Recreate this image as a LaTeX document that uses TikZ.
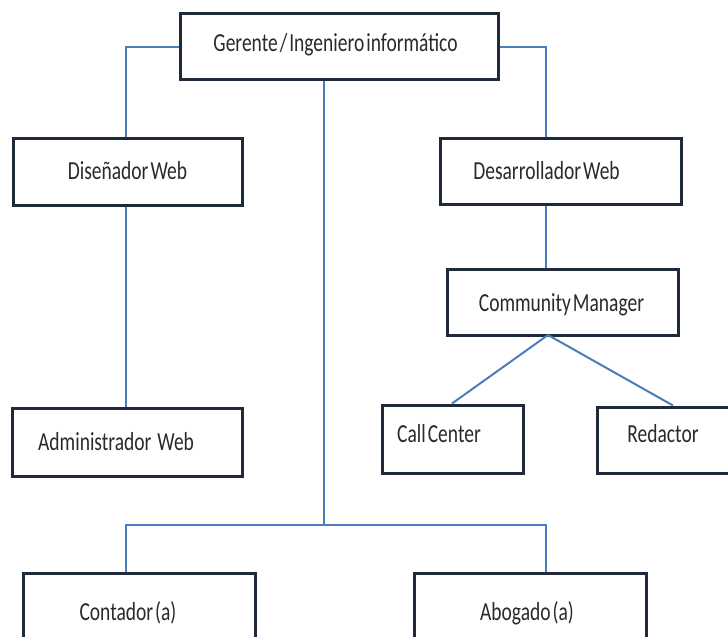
\documentclass[tikz,border=0pt]{standalone}
\usepackage{fontspec}
\setmainfont[FakeStretch=0.75,WordSpace=0.45]{Carlito}
\definecolor{boxline}{HTML}{1F2A3A}
\definecolor{conn}{HTML}{4A7EBB}
\definecolor{txt}{HTML}{2A2A2A}
\begin{document}
\begin{tikzpicture}[x=1pt,y=-1pt,
  orgbox/.style={draw=boxline, line width=3pt, fill=white, rectangle, inner sep=0pt},
  lbl/.style={text=txt, font=\fontsize{26}{30}\selectfont, inner sep=0pt},
  link/.style={draw=conn, line width=2pt}]
\useasboundingbox (0,0) rectangle (728,637);
\begin{scope}
\clip (0,0) rectangle (728,637);
% boxes
\node[orgbox, minimum width=318pt, minimum height=66pt] (ger) at (339,46) {};
\node[orgbox, minimum width=229pt, minimum height=67pt] (dis) at (127.5,171.5) {};
\node[orgbox, minimum width=241pt, minimum height=66pt] (des) at (560.5,171) {};
\node[orgbox, minimum width=231pt, minimum height=66pt] (com) at (562.5,302) {};
\node[orgbox, minimum width=230pt, minimum height=68pt] (adm) at (127,442) {};
\node[orgbox, minimum width=141pt, minimum height=68pt] (call) at (452.5,439) {};
\node[orgbox, minimum width=133pt, minimum height=66pt] (red) at (663.5,440) {};
\node[orgbox, minimum width=232pt, minimum height=87pt] (cont) at (139,616.5) {};
\node[orgbox, minimum width=232pt, minimum height=87pt] (abo) at (530,616.5) {};
% labels
\node[lbl] (gert) at (335.5,45) {Gerente / Ingeniero informático};
\node[lbl] (dist) at (127.5,171) {Diseñador Web};
\node[lbl] (dest) at (546.5,171) {Desarrollador Web};
\node[lbl] (comt) at (561.5,305) {Community Manager};
\node[lbl, anchor=west] (admt) at (38,442) {Administrador\hspace{0.15em} Web};
\node[lbl, anchor=west] (callt) at (397,434) {Call Center};
\node[lbl] (redt) at (663,434) {Redactor};
\node[lbl] (contt) at (128,613) {Contador (a)};
\node[lbl] (abot) at (527,613) {Abogado (a)};
\end{scope}
% junction coordinates
\coordinate (jl) at (126,47);
\coordinate (jr) at (546,47);
\coordinate (jt) at (324,525);
\coordinate (jbl) at (126,525);
\coordinate (jbr) at (546,525);
\coordinate (cmb) at (548,335);
\coordinate (cct) at (452,405);
\coordinate (rdt) at (673,405);
% connectors
\draw[link] (ger.west |- jl) -- (jl) -- (jl |- dis.north);
\draw[link] (ger.east |- jr) -- (jr) -- (jr |- des.north);
\draw[link] (jt |- ger.south) -- (jt);
\draw[link] (jbl |- cont.north) -- (jbl) -- (jbr) -- (jbr |- abo.north);
\draw[link] (jl |- dis.south) -- (jl |- adm.north);
\draw[link] (jr |- des.south) -- (jr |- com.north);
\draw[link] (cmb) -- (cct |- call.north);
\draw[link] (cmb) -- (rdt |- red.north);
\end{tikzpicture}
\end{document}
